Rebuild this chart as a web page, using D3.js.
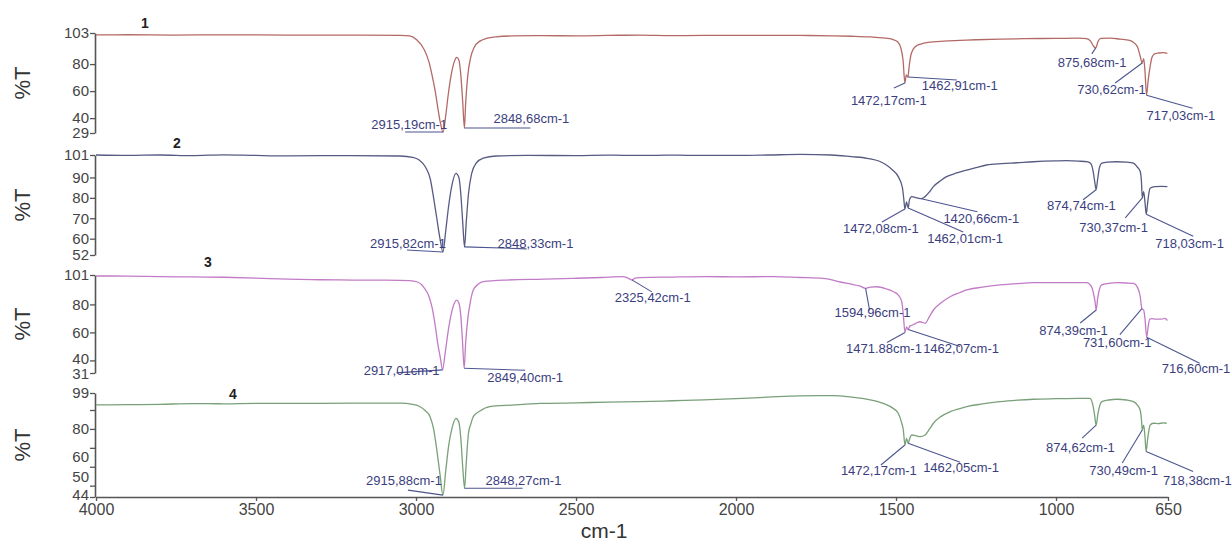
<!DOCTYPE html>
<html>
<head>
<meta charset="utf-8">
<script src="https://cdn.jsdelivr.net/npm/d3@7"></script>
<style>
  body { margin: 0; background: #fff; }
  svg { display: block; }
</style>
</head>
<body>
<div id="chart"></div>
<script>
// spectrum values as [wavenumber, %T]
var spectrum1 = [[4000,101.6],[3900,101.7],[3760,101.5],[3600,101.6],[3400,101.5],[3200,101.4],[3050,101.2],[3020,100.8],[2997,97.8],[2975,91],[2960,82],[2950,72],[2940,60],[2932,48],[2925,38],[2915.19,29.7],[2907,42],[2900,56],[2890,72],[2880,82],[2873,85],[2866,83],[2860,72],[2854,52],[2848.68,32.7],[2845,50],[2838,72],[2830,84],[2818,92.5],[2800,97],[2780,99],[2750,100.2],[2700,100.8],[2600,101],[2500,100.9],[2400,101.2],[2300,101.5],[2200,101.1],[2100,101.2],[2000,101.3],[1900,101.3],[1800,101.2],[1700,100.9],[1640,100.6],[1580,100.1],[1540,99.4],[1510,98.2],[1495,96.5],[1485,92],[1478,83],[1472.17,66],[1468,72],[1462.91,70.4],[1458,80],[1452,88],[1441,92.6],[1420,95],[1400,96],[1350,97],[1300,97.5],[1250,98],[1175,98.5],[1100,98.8],[1000,99],[930,99.2],[905,98.8],[892,97],[882,93],[875.68,92],[869,96.5],[860,99],[830,99.2],[800,98.5],[770,97.6],[755,95.5],[745,92.5],[737,86],[730.62,80.8],[726,84],[722,75],[717.03,57],[712,68],[706,78],[700,85],[692,87.5],[680,88.2],[665,88.5],[652,88]];

var spectrum2 = [[4000,101],[3900,100.8],[3800,101],[3700,100.7],[3600,101.1],[3500,100.8],[3400,100.6],[3200,100.7],[3050,100.5],[3010,99.8],[2990,98.5],[2970,95],[2955,89],[2945,80],[2935,70],[2925,60],[2915.82,53.5],[2907,64],[2898,76],[2888,86],[2875,92],[2866,90],[2860,82],[2854,68],[2848.33,56],[2843,68],[2836,82],[2826,92],[2812,97],[2790,99.5],[2750,100.5],[2650,100.8],[2500,100.7],[2400,100.9],[2300,100.8],[2200,100.9],[2100,100.8],[2000,100.8],[1900,101],[1800,101.3],[1700,101],[1640,100.2],[1590,99.4],[1550,97.8],[1530,96.1],[1510,93.5],[1493,90.4],[1480,85],[1476,80],[1472.08,74.5],[1467,78],[1462.01,75],[1458,79],[1451,80.6],[1435,80],[1420.66,79.6],[1409,80.6],[1395,83],[1383,85.5],[1360,88.5],[1342,90.4],[1310,92.2],[1279,93.6],[1250,94.8],[1217,96.1],[1170,96.8],[1123,97.2],[1071,97.7],[1000,98.1],[967,98.2],[930,98],[900,97.6],[890,96.5],[884,93],[879,88],[874.74,84],[870,89],[864,95],[857,97],[840,97.5],[810,97.7],[780,97.5],[758,97],[748,95.5],[737,93],[733,88],[730.37,80],[726,83],[722,78],[718.03,72],[714,77],[710,82],[706,84.7],[691,85.5],[670,85.6],[652,85.5]];

var spectrum3 = [[4000,100.3],[3900,100.2],[3800,99.8],[3700,99.6],[3600,99.4],[3500,98.8],[3400,98],[3300,97.6],[3200,97.4],[3100,97.3],[3020,97],[2995,96],[2975,92],[2960,86],[2950,78],[2940,65],[2932,52],[2924,42],[2917.01,33.2],[2909,45],[2900,60],[2890,73],[2880,81],[2873,83],[2866,81],[2860,72],[2855,55],[2849.4,34.4],[2845,52],[2838,70],[2830,82],[2821,90.3],[2805,94.5],[2790,96.2],[2717,97.4],[2600,98],[2509,98.6],[2420,99.2],[2353,99.8],[2338,98.8],[2325.42,97.5],[2315,98.8],[2300,99.1],[2200,99.5],[2092,99.8],[2000,99.7],[1884,99.8],[1800,99.2],[1728,98.6],[1697,97.4],[1675,96],[1640,94.5],[1612,93],[1594.96,91.5],[1580,92.4],[1560,92.6],[1530,91],[1508,89],[1492,86.5],[1482,82],[1477,72],[1471.88,60],[1467,64],[1462.07,62],[1457,64.5],[1451,65],[1438,66.5],[1425,67.6],[1409,66.5],[1395,71.5],[1383,76],[1360,81],[1331,85.5],[1300,88.5],[1279,90.3],[1230,92.3],[1175,93.9],[1120,94.9],[1071,95.5],[1000,95.6],[904,95.5],[890,93],[883,88],[878,82],[874.39,76],[870,84],[864,91],[857,93.9],[835,95],[810,95.5],[780,95.3],[758,95],[745,92],[737,86],[731.6,77],[726,76],[722,70],[716.6,56.5],[712,64],[707,69.5],[700,69.8],[690,69.5],[670,69.5],[660,70],[652,68.5]];

var spectrum4 = [[4000,92.7],[3900,92.8],[3800,93],[3700,93.4],[3600,93.3],[3500,93.5],[3400,93.5],[3200,93.6],[3050,93.6],[3010,93],[2990,92],[2970,89.5],[2956,86.5],[2945,80],[2935,68.9],[2925,56],[2915.88,45],[2907,58],[2898,71],[2888,80],[2875,85.6],[2866,83.5],[2860,75],[2854,60],[2848.27,48.6],[2843,62],[2836,77.7],[2828,83],[2821,86.5],[2800,89.5],[2769,91.8],[2700,92.6],[2612,93.5],[2500,93.8],[2400,94.2],[2300,94.4],[2200,94.9],[2100,95.4],[2000,96],[1900,96.8],[1800,97.5],[1700,97.6],[1644,97],[1600,96],[1540,93.5],[1510,91],[1493,88.3],[1482,83],[1477,79.4],[1472.17,71.5],[1467,75],[1462.05,72.4],[1457,75],[1451,76.8],[1438,76.4],[1425,75.9],[1409,76.8],[1395,80],[1383,83],[1360,86.5],[1331,89.1],[1300,90.8],[1279,91.8],[1230,93.2],[1175,94.4],[1120,95.2],[1071,95.7],[1000,96],[930,96.2],[894,96.2],[886,93.5],[880,88],[874.62,82],[869,88],[863,92.5],[857,94.4],[835,95.3],[810,95.7],[780,95.3],[758,94.4],[745,92.5],[737,90],[733,85],[730.49,79.4],[726,82],[722,76],[718.38,68],[714,74],[710,79],[706,82],[696,83],[680,82.8],[665,83.2],[654,83]];

// y ranges and tick values per panel
var yDomains = [[29,103],[52,101],[31,101],[44,99]];
var yTicks = [[103,80,60,40,29],[101,90,80,70,60,52],[101,80,60,40,31],[99,90,80,70,60,50,44]];
var yTickLabels = [[103,80,60,40,29],[101,90,80,70,60,52],[101,80,60,40,31],[99,80,60,50,44]];
var xTicks = [4000,3500,3000,2500,2000,1500,1000,650];
var panelNames = ['1','2','3','4'];

// peak labels per panel
var peaks1 = [[2915.19,'2915,19cm-1'],[2848.68,'2848,68cm-1'],[1472.17,'1472,17cm-1'],[1462.91,'1462,91cm-1'],[875.68,'875,68cm-1'],[730.62,'730,62cm-1'],[717.03,'717,03cm-1']];
var peaks2 = [[2915.82,'2915,82cm-1'],[2848.33,'2848,33cm-1'],[1472.08,'1472,08cm-1'],[1462.01,'1462,01cm-1'],[1420.66,'1420,66cm-1'],[874.74,'874,74cm-1'],[730.37,'730,37cm-1'],[718.03,'718,03cm-1']];
var peaks3 = [[2917.01,'2917,01cm-1'],[2849.40,'2849,40cm-1'],[2325.42,'2325,42cm-1'],[1594.96,'1594,96cm-1'],[1471.88,'1471.88cm-1'],[1462.07,'1462,07cm-1'],[874.39,'874,39cm-1'],[731.60,'731,60cm-1'],[716.60,'716,60cm-1']];
var peaks4 = [[2915.88,'2915,88cm-1'],[2848.27,'2848,27cm-1'],[1472.17,'1472,17cm-1'],[1462.05,'1462,05cm-1'],[874.62,'874,62cm-1'],[730.49,'730,49cm-1'],[718.38,'718,38cm-1']];

// label placement: [text dx, text dy, anchor, leader dx, leader dy] relative to the peak point
var peakLayout = [
  [[4,-3,'end',-38,0],[29,-5,'start',66,0],[-54,22,'start',-11,5],[14,13,'start',49,3],[-38,19,'start',-4,6],[-65,31,'start',-27,20],[0,25,'start',46,13]],
  [[3,-4,'end',-36,-2],[33,1,'start',62,2],[-62,24,'start',-23,13],[19,35,'start',55,24],[22,24,'start',56,13],[-49,20,'start',-13,10],[-63,34,'start',-17,20],[9,34,'start',47,22]],
  [[-3,5,'end',-46,3],[23,14,'start',61,2],[-17,22,'start',20,12],[-31,29,'start',4,22],[-59,21,'start',-18,10],[15,23,'start',52,17],[-57,25,'start',-16,13],[-59,38,'start',-22,26],[15,36,'start',53,26]],
  [[-1,-10,'end',-35,-5],[21,-3,'start',58,0],[-64,30,'start',-24,20],[15,29,'start',52,19],[-50,27,'start',-14,13],[-53,45,'start',-20,33],[17,33,'start',47,20]]
];

// small vertical nudges for crowded tick labels (as in the original)
var tickNudge = [{}, {}, {40: -2, 31: 1}, {60: -10, 50: -9, 44: -2}];

var panelRanges = [[133,33],[255,155],[373,275],[497,393]];
var panelLabelPos = [[145,28],[177,148],[208,267],[233,399]];
var lineColors = ['#b36a66','#575b82','#c27bc6','#79a079'];
var allSpectra = [spectrum1, spectrum2, spectrum3, spectrum4];
var allPeaks = [peaks1, peaks2, peaks3, peaks4];

var svg = d3.select('#chart').append('svg')
    .attr('width', 1232)
    .attr('height', 541)
    .style('font-family', '"Liberation Sans", Arial, sans-serif');

var x = d3.scaleLinear().domain([4000, 650]).range([96, 1168]);

// linear interpolation of %T at a wavenumber
function tAt(series, wn) {
  for (var i = 0; i < series.length - 1; i++) {
    var a = series[i], b = series[i + 1];
    if (wn <= a[0] && wn >= b[0]) {
      var f = (a[0] - wn) / (a[0] - b[0]);
      return a[1] + f * (b[1] - a[1]);
    }
  }
  return series[series.length - 1][1];
}

allSpectra.forEach(function(series, p) {
  var y = d3.scaleLinear().domain(yDomains[p]).range(panelRanges[p]);
  var g = svg.append('g');

  // left axis
  var labels = yTickLabels[p];
  var nudge = tickNudge[p];
  var ax = g.append('g')
      .attr('transform', 'translate(95,0)')
      .call(d3.axisLeft(y).tickValues(yTicks[p]).tickSize(5).tickSizeOuter(0)
        .tickFormat(function(d) { return labels.indexOf(d) >= 0 ? d : ''; }));
  ax.select('.domain').attr('stroke', '#555').attr('stroke-width', 1.6);
  ax.selectAll('.tick line').attr('stroke', '#555').attr('stroke-width', 1.3);
  ax.selectAll('.tick text')
      .attr('fill', '#444')
      .attr('font-size', '15px')
      .attr('x', -6)
      .attr('y', function(d) { return nudge[d] || 0; });

  // %T label
  var mid = (panelRanges[p][0] + panelRanges[p][1]) / 2;
  g.append('text')
      .attr('transform', 'translate(30,' + mid + ') rotate(-90)')
      .attr('text-anchor', 'middle')
      .attr('font-size', '22px')
      .attr('fill', '#333')
      .text('%T');

  // panel number
  g.append('text')
      .attr('x', panelLabelPos[p][0])
      .attr('y', panelLabelPos[p][1])
      .attr('text-anchor', 'middle')
      .attr('font-size', '14px')
      .attr('font-weight', 'bold')
      .attr('fill', '#222')
      .text(panelNames[p]);

  // spectrum line
  var line = d3.line()
      .x(function(d) { return x(d[0]); })
      .y(function(d) { return y(d[1]); })
      .curve(d3.curveMonotoneX);
  g.append('path')
      .datum(series)
      .attr('fill', 'none')
      .attr('stroke', lineColors[p])
      .attr('stroke-width', 1.3)
      .attr('d', line);

  // peak annotations
  allPeaks[p].forEach(function(pk, i) {
    var lay = peakLayout[p][i];
    var px = x(pk[0]), py = y(tAt(series, pk[0]));
    g.append('line')
        .attr('x1', px).attr('y1', py)
        .attr('x2', px + lay[3]).attr('y2', py + lay[4])
        .attr('stroke', '#4d5590')
        .attr('stroke-width', 1.1);
    g.append('text')
        .attr('x', px + lay[0])
        .attr('y', py + lay[1])
        .attr('text-anchor', lay[2])
        .attr('font-size', '13px')
        .attr('fill', '#3b3e7e')
        .text(pk[1]);
  });
});

// bottom axis
var xa = svg.append('g')
    .attr('transform', 'translate(0,497)')
    .call(d3.axisBottom(x).tickValues(xTicks).tickSize(4).tickSizeOuter(0).tickFormat(d3.format('d')));
xa.select('.domain').attr('stroke', '#555').attr('stroke-width', 1.6);
xa.selectAll('.tick line').attr('stroke', '#555').attr('stroke-width', 1.3);
xa.selectAll('.tick text').attr('fill', '#444').attr('font-size', '16px');

svg.append('text')
    .attr('x', 604)
    .attr('y', 538)
    .attr('text-anchor', 'middle')
    .attr('font-size', '21px')
    .attr('fill', '#333')
    .text('cm-1');
</script>
</body>
</html>
